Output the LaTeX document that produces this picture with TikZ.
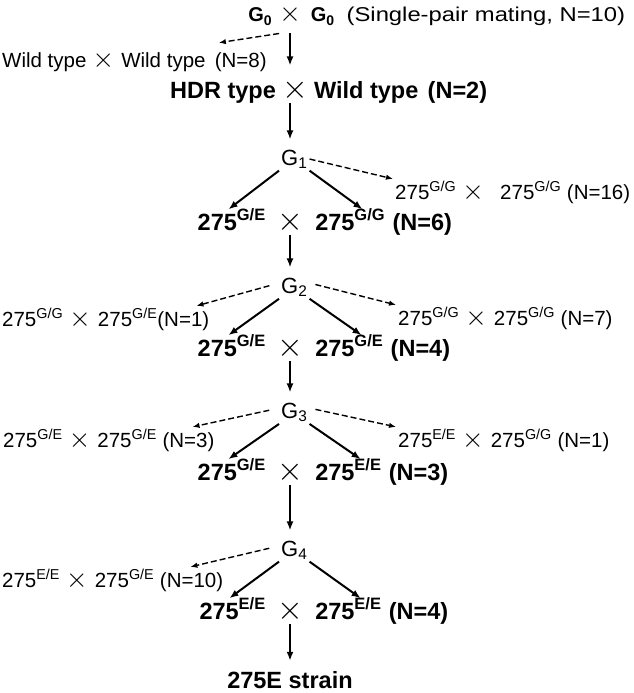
\documentclass[tikz,border=0pt]{standalone}
\usepackage{graphicx}
\usepackage{fontspec}
\setmainfont{Liberation Sans}
\newfontfamily\widesans[FakeStretch=1.19]{Liberation Sans}
\usepackage{tikz}
\usetikzlibrary{positioning}
\usetikzlibrary{arrows.meta}

\newcommand{\crs}{\scalebox{1.33}{$\times$}}
\newcommand{\mate}{\hspace{0.3em}\crs\hspace{0.35em}}

\tikzset{
    txt/.style={inner sep=2pt, font=\fontsize{20.5}{24}\selectfont},
    btxt/.style={inner sep=2pt, font=\fontsize{23.5}{28}\selectfont\bfseries},
    gen/.style={inner sep=2pt, anchor=base west, font=\fontsize{22}{26}\selectfont},
    xcr/.style={inner sep=0pt, anchor=base},
    down/.style={-{Latex[length=9pt,width=7pt]}, line width=2pt, shorten <=2pt, shorten >=8pt},
    branch/.style={-{Latex[length=9pt,width=7pt]}, line width=2pt, shorten >=-4pt},
    side/.style={-{Latex[length=7pt,width=5.5pt]}, line width=1.4pt, dash pattern=on 6pt off 3pt}
}

\begin{document}
\begin{tikzpicture}[x=1pt,y=-1pt]
    		\useasboundingbox (0,0) rectangle (633,693);
    		% Crosses and generations:
    		\node[txt, xcr, font=\fontsize{20}{24}\selectfont] (t0) at (290,22){\crs};
    		\node[txt, font=\fontsize{20}{24}\selectfont, base left=4.7pt of t0] (t0l){\textbf{G\textsubscript{0}}};
    		\node[txt, font=\fontsize{20}{24}\selectfont, base right=7.7pt of t0] (t0r){\textbf{G\textsubscript{0}}\hspace{12pt}{\widesans(Single-pair mating, N=10)}};
    		\node[txt, anchor=base west] (wt) at (0,67){Wild type\mate Wild type\hspace{0.45em}(N=8)};
    		\node[btxt, xcr] (h0) at (295,98){\crs};
    		\node[btxt, base left=3.8pt of h0] (h0l){HDR type};
    		\node[btxt, base right=3.8pt of h0] (h0r){Wild type\hspace{0.4em}(N=2)};
    		\node[gen] (g1) at (279,165){G\textsubscript{1}};
    		\node[txt, anchor=base west] (s1r) at (393,199){275\textsuperscript{G/G}\mate\hspace{0.45em}275\textsuperscript{G/G} (N=16)};
    		\node[btxt, xcr] (c1) at (290,230){\crs};
    		\node[btxt, base left=9pt of c1] (c1l){275\textsuperscript{G/E}};
    		\node[btxt, base right=10pt of c1] (c1r){275\textsuperscript{G/G}};
    		\node[btxt, base right=3pt of c1r] (n1){(N=6)};
    		\node[gen] (g2) at (279,293){G\textsubscript{2}};
    		\node[txt, anchor=base west] (s2l) at (0,326){275\textsuperscript{G/G}\mate 275\textsuperscript{G/E}(N=1)};
    		\node[txt, anchor=base west] (s2r) at (396,325){275\textsuperscript{G/G}\mate 275\textsuperscript{G/G} (N=7)};
    		\node[btxt, xcr] (c2) at (290,356){\crs};
    		\node[btxt, base left=9pt of c2] (c2l){275\textsuperscript{G/E}};
    		\node[btxt, base right=10pt of c2] (c2r){275\textsuperscript{G/E}};
    		\node[btxt, base right=3pt of c2r] (n2){(N=4)};
    		\node[gen] (g3) at (279,418){G\textsubscript{3}};
    		\node[txt, anchor=base west] (s3l) at (1,447){275\textsuperscript{G/E}\mate 275\textsuperscript{G/E} (N=3)};
    		\node[txt, anchor=base west] (s3r) at (396,447){275\textsuperscript{E/E}\mate 275\textsuperscript{G/G} (N=1)};
    		\node[btxt, xcr] (c3) at (290,480){\crs};
    		\node[btxt, base left=9pt of c3] (c3l){275\textsuperscript{G/E}};
    		\node[btxt, base right=10pt of c3] (c3r){275\textsuperscript{E/E}};
    		\node[btxt, base right=3pt of c3r] (n3){(N=3)};
    		\node[gen] (g4) at (279,556){G\textsubscript{4}};
    		\node[txt, anchor=base west] (s4l) at (0,587){275\textsuperscript{E/E}\mate 275\textsuperscript{G/E} (N=10)};
    		\node[btxt, xcr] (c4) at (290,619){\crs};
    		\node[btxt, base left=9pt of c4] (c4l){275\textsuperscript{E/E}};
    		\node[btxt, base right=10pt of c4] (c4r){275\textsuperscript{E/E}};
    		\node[btxt, base right=3pt of c4r] (n4){(N=4)};
    		\node[btxt, anchor=base] (st) at (290,688){275E strain};
    		% Arrows:
    		\draw[down, shorten <=9pt, shorten >=13pt] (t0.south) -- (t0.south |- h0.north);
    		\draw[side] ([yshift=-9pt]t0.south west) -- ([xshift=-50pt,yshift=6pt]wt.north east);
    		\draw[down] (t0.south |- h0.south) -- (t0.south |- g1.north);
    		\draw[branch] (g1.south west) -- (c1l.north);
    		\draw[branch] (g1.south east) -- ([xshift=9pt]c1r.north);
    		\draw[side] (g1.east) -- (s1r.north west);
    		\draw[down] (c1.south) -- (c1.south |- g2.north);
    		\draw[branch] (g2.south west) -- (c2l.north);
    		\draw[branch] (g2.south east) -- ([xshift=9pt]c2r.north);
    		\draw[side, shorten <=10pt] (g2.165) -- ([xshift=-15pt]s2l.north east);
    		\draw[side, shorten <=6pt] (g2.15) -- (s2r.north west);
    		\draw[down] (c2.south) -- (c2.south |- g3.north);
    		\draw[branch] (g3.south west) -- (c3l.north);
    		\draw[branch] (g3.south east) -- ([xshift=9pt]c3r.north);
    		\draw[side, shorten <=10pt] (g3.165) -- ([xshift=-24pt]s3l.north east);
    		\draw[side, shorten <=6pt] (g3.15) -- (s3r.north west);
    		\draw[down] (c3.south) -- (c3.south |- g4.north);
    		\draw[branch] (g4.south west) -- (c4l.north);
    		\draw[branch] (g4.south east) -- ([xshift=9pt]c4r.north);
    		\draw[side, shorten <=10pt] (g4.165) -- ([xshift=-35pt]s4l.north east);
    		\draw[down] (c4.south) -- (c4.south |- st.north);
    	\end{tikzpicture}
\end{document}
